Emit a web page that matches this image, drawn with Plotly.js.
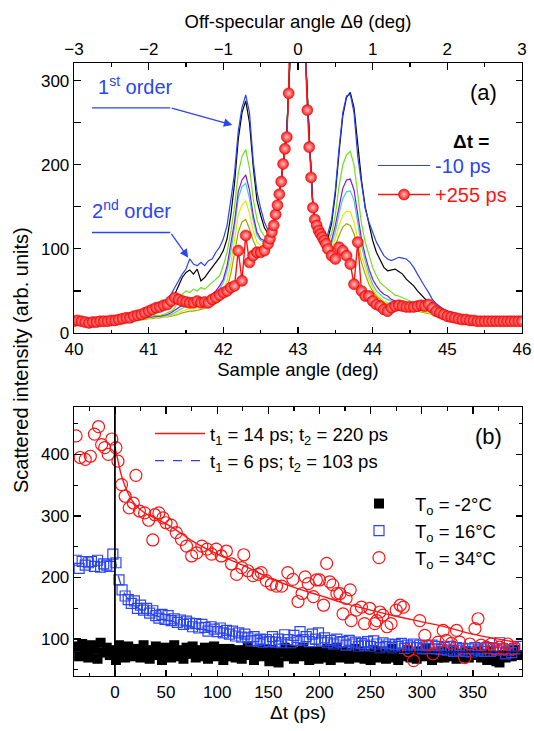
<!DOCTYPE html>
<html><head><meta charset="utf-8">
<script src="https://cdn.plot.ly/plotly-3.0.1.min.js"></script>
<style>body{margin:0;background:#fff}#chart{width:534px;height:731px}</style>
</head><body><div id="chart"></div>
<script>
// ---------- Panel (a): sample angle scans ----------
const angle = [40.00,40.05,40.10,40.15,40.20,40.25,40.30,40.35,40.40,40.45,
 40.50,40.55,40.60,40.65,40.70,40.75,40.80,40.85,40.90,40.95,
 41.00,41.05,41.10,41.15,41.20,41.25,41.30,41.35,41.40,41.45,
 41.50,41.55,41.60,41.65,41.70,41.75,41.80,41.85,41.90,41.95,
 42.00,42.05,42.10,42.15,42.20,42.25,42.30,42.35,42.40,42.45,
 42.50,42.55,42.60,42.65,42.70,42.75,42.80,42.85,42.90,42.95,
 43.00,
 43.05,43.10,43.15,43.20,43.25,43.30,43.35,43.40,43.45,43.50,
 43.55,43.60,43.65,43.70,43.75,43.80,43.85,43.90,43.95,44.00,
 44.05,44.10,44.15,44.20,44.25,44.30,44.35,44.40,44.45,44.50,
 44.55,44.60,44.65,44.70,44.75,44.80,44.85,44.90,44.95,45.00,
 45.05,45.10,45.15,45.20,45.25,45.30,45.35,45.40,45.45,45.50,
 45.55,45.60,45.65,45.70,45.75,45.80,45.85,45.90,45.95,46.00];

const blueM10 = [12,13,12,13,12,13,14,13,14,14,
 15,15,16,16,17,18,19,20,21,22,
 24,26,28,30,34,40,46,54,62,70,
 76,88,82,80,84,80,86,88,96,102,
 112,128,158,190,240,268,283,262,205,168,
 148,132,122,124,140,165,200,240,340,900,
 3000,
 900,330,235,150,128,118,112,118,135,170,
 220,262,282,284,262,210,178,148,132,120,
 108,100,92,88,86,88,90,89,88,84,
 78,70,62,55,48,40,35,31,28,26,
 25,23,22,21,20,19,19,18,18,17,
 17,16,16,16,15,15,15,14,15,15];

const blackCurve = [12,12,13,12,12,13,13,14,13,14,
 14,15,15,16,16,17,18,19,20,21,
 22,23,25,27,29,33,38,46,56,66,
 72,75,70,76,62,66,72,78,84,90,
 98,112,140,178,230,262,276,250,198,158,
 140,125,118,124,140,165,200,240,340,900,
 3000,
 900,330,235,150,126,116,110,112,130,165,
 215,258,280,286,268,222,182,150,128,110,
 96,86,78,74,75,76,73,70,64,60,
 56,50,45,40,36,32,29,26,24,22,
 21,20,19,18,18,17,17,16,16,16,
 15,15,15,14,14,14,14,14,14,14];

const greenCurve = [12,12,12,12,12,13,13,13,13,14,
 14,14,15,15,16,16,17,17,18,19,
 20,20,21,21,22,24,26,30,38,46,
 50,48,52,50,54,52,56,60,64,68,
 80,96,120,150,190,210,218,196,160,135,
 122,115,114,124,140,165,200,240,340,900,
 3000,
 900,330,235,150,126,114,106,108,118,140,
 175,200,212,216,200,165,130,108,92,78,
 68,60,56,52,48,45,44,42,40,38,
 36,34,32,30,28,26,24,22,21,20,
 19,18,17,17,16,16,15,15,15,14,
 14,14,14,14,14,13,13,13,13,13];

const purpleCurve = [12,12,12,12,12,12,13,13,13,13,
 14,14,14,15,15,16,16,17,17,18,
 19,19,20,20,21,22,24,27,30,34,
 36,38,36,40,38,40,42,46,50,56,
 64,80,104,132,168,182,188,170,140,120,
 112,110,112,122,140,165,200,240,340,900,
 3000,
 900,330,235,150,126,114,104,102,110,128,
 152,172,182,183,170,140,112,92,76,64,
 56,50,46,44,40,38,36,34,32,32,
 30,30,29,28,27,25,23,21,20,19,
 18,17,17,16,16,15,15,15,14,14,
 14,14,13,13,13,13,13,13,13,13];

const cyanCurve = [12,12,12,12,12,12,12,13,13,13,
 13,14,14,14,15,15,16,16,17,18,
 18,19,19,20,20,21,22,24,27,30,
 32,34,32,35,34,36,38,42,46,52,
 60,74,96,126,160,174,178,160,134,116,
 110,108,110,122,140,165,200,240,340,900,
 3000,
 900,330,235,150,126,112,102,100,106,120,
 142,160,168,169,158,130,104,86,70,58,
 50,46,42,40,38,36,34,33,32,31,
 30,29,28,27,26,24,22,21,20,19,
 18,17,16,16,15,15,15,14,14,14,
 14,13,13,13,13,13,13,13,12,12];

const yellowCurve = [11,11,12,12,12,12,12,12,13,13,
 13,13,14,14,14,15,15,16,16,17,
 17,18,18,19,19,20,21,22,24,26,
 28,29,28,30,30,32,34,36,40,44,
 50,62,82,110,140,152,157,142,122,108,
 104,104,108,122,140,165,200,240,340,900,
 3000,
 900,330,235,150,124,110,100,96,100,112,
 128,140,145,144,132,112,92,78,64,54,
 46,42,38,36,34,32,31,30,29,28,
 28,27,26,25,24,22,21,20,19,18,
 17,16,16,15,15,14,14,14,13,13,
 13,13,12,12,12,12,12,12,12,12];

const oliveCurve = [11,11,11,12,12,12,12,12,12,13,
 13,13,13,14,14,14,15,15,16,16,
 17,17,18,18,19,19,20,21,22,24,
 25,26,26,27,28,29,30,32,35,38,
 44,54,70,94,120,132,135,124,110,100,
 98,100,106,122,140,165,200,240,340,900,
 3000,
 900,330,235,150,124,108,98,94,96,104,
 116,126,130,128,118,100,84,70,58,50,
 44,40,36,34,32,31,30,29,28,27,
 26,26,25,24,23,22,20,19,18,17,
 16,16,15,15,14,14,14,13,13,13,
 13,12,12,12,12,12,12,12,12,12];

const angleRed = [40.00,40.05,40.10,40.15,40.20,40.25,40.30,40.35,40.40,40.45,
 40.50,40.55,40.60,40.65,40.70,40.75,40.80,40.85,40.90,40.95,
 41.00,41.05,41.10,41.15,41.20,41.25,41.30,41.35,41.40,41.45,
 41.50,41.55,41.60,41.65,41.70,41.75,41.80,41.85,41.90,41.95,
 42.00,42.05,42.10,42.15,42.20,42.25,42.30,42.35,42.40,42.45,
 42.50,42.55,
 42.600,42.625,42.650,42.675,42.700,42.725,42.750,42.775,
 42.800,42.825,42.850,42.875,42.900,42.925,42.950,42.975,
 43.000,
 43.025,43.050,43.075,43.100,43.125,43.150,43.175,43.200,
 43.225,43.250,43.275,43.300,43.325,43.350,43.375,43.400,
 43.45,43.50,43.55,43.60,43.65,43.70,43.75,43.80,43.85,43.90,
 43.95,44.00,44.05,44.10,44.15,44.20,44.25,44.30,44.35,44.40,
 44.45,44.50,44.55,44.60,44.65,44.70,44.75,44.80,44.85,44.90,
 44.95,45.00,45.05,45.10,45.15,45.20,45.25,45.30,45.35,45.40,
 45.45,45.50,45.55,45.60,45.65,45.70,45.75,45.80,45.85,45.90,
 45.95,46.00];

const redP255 = [14,15,14,13,12,13,13,14,14,14,
 15,15,16,17,18,18,20,21,22,24,
 26,28,30,31,33,34,38,42,40,38,
 37,36,36,38,36,37,36,40,42,45,
 48,50,54,56,98,62,116,84,92,96,
 96,98,
 106,112,120,128,141,152,165,180,
 201,219,233,285,340,600,1200,2500,
 3000,
 2500,1200,600,330,265,221,185,149,
 135,128,122,118,114,110,106,100,
 92,88,102,98,92,82,58,108,50,44,
 44,38,34,32,28,26,30,32,33,32,
 31,31,31,32,33,32,34,30,26,24,
 22,20,19,18,17,16,16,15,15,14,
 14,14,14,14,14,14,14,14,14,14,
 14,14];

const offAngleTicks = [-3,-2,-1,0,1,2,3];

// ---------- Panel (b): time delay scans ----------
const tSquares = [-38,-35,-32,-29,-26,-23,-20,-17,-14,-11,
 -8,-5,-2,1,4,7,10,13,16,19,
 22,25,28,31,34,37,40,43,46,49,
 52,55,58,61,64,67,70,73,76,79,
 82,85,88,91,94,97,100,103,106,109,
 112,115,118,121,124,127,130,133,136,139,
 142,145,148,151,154,157,160,163,166,169,
 172,175,178,181,184,187,190,193,196,199,
 202,205,208,211,214,217,220,223,226,229,
 232,235,238,241,244,247,250,253,256,259,
 262,265,268,271,274,277,280,283,286,289,
 292,295,298,301,304,307,310,313,316,319,
 322,325,328,331,334,337,340,343,346,349,
 352,355,358,361,364,367,370,373,376,379,
 382,385,388,391,394];

const blackM2 = [88,72,92,80,70,90,84,68,94,78,
 86,74,82,66,90,76,70,88,80,72,
 84,70,90,78,68,82,88,74,66,86,
 78,70,90,82,72,68,86,76,88,70,
 82,72,86,68,78,88,72,84,66,76,
 84,72,70,82,68,78,88,74,66,80,
 72,84,76,64,82,70,62,78,86,72,
 82,68,80,72,86,74,66,80,72,68,
 80,70,84,66,74,86,70,80,72,68,
 78,84,70,80,68,76,66,82,72,70,
 80,68,76,84,70,66,78,72,82,70,
 76,68,80,72,84,74,66,78,70,80,
 70,78,72,82,68,76,70,80,70,78,
 74,80,70,76,66,80,72,64,62,74,
 70,80,72,82,74];

const blue16 = [228,215,226,220,224,226,218,228,217,222,
 220,218,238,224,196,180,170,164,158,162,
 150,155,147,150,142,146,138,134,140,132,
 138,130,133,127,131,124,129,126,120,125,
 118,124,119,113,120,116,112,118,110,114,
 108,113,105,110,103,108,102,97,104,98,
 100,95,99,96,104,95,100,94,107,99,
 94,106,98,112,99,104,96,108,100,110,
 97,102,94,98,92,100,95,96,90,98,
 92,95,88,93,90,96,88,97,92,86,
 94,88,92,86,91,88,93,85,90,87,
 92,86,90,84,89,85,90,84,88,83,
 86,82,88,80,86,82,85,80,84,79,
 86,82,84,80,86,80,85,82,94,84,
 76,82,78,84,88];

const tCircles = [-38,-34,-29,-24,-20,-16,-13,-10,-6.5,-3,
 1,3,6.5,10,14,18,20.5,24,29,33,
 37,39,43,47,50,55,60,65,70,75,
 80,85,90,94.5,99,104,109,114,119,124,
 126,130,135,140,143,148,153,158,163,169,
 174,179,183,186,189,194,197,200,204,207,
 210,213,217,220,223,226,230,231,236,241,
 244,249,254,256,259,262,266,270,275,279,
 282,287,292,298,303,306,311,316,321,324,
 329,334,337,342,347,352,355,358,363,368,
 371,376,380,384,389];

const red34 = [430,395,392,397,433,445,416,411,400,425,
 411,389,351,332,313,321,366,308,305,293,
 261,302,305,297,289,285,273,262,251,235,
 240,251,246,238,246,235,243,222,205,216,
 237,211,203,205,208,195,189,186,186,208,
 197,161,174,201,190,169,196,196,155,223,
 193,188,174,174,141,166,180,130,147,152,
 125,150,125,130,144,139,120,125,147,155,
 152,81,65,130,106,89,76,95,114,98,
 93,114,95,70,92,117,133,90,87,92,
 84,87,84,92,84];

const tFitRed = [0,3,6,10,15,20,25,30,40,50,60,75,100,125,150,175,200,225,250,275,300,325,350,375,395];
const fitRed = [412,390,368,348,330,318,310,304,296,287,277,260,238,220,200,184,171,158,147,137,128,119,108,100,94];
const tFitBlue = [0,3,6,10,15,20,30,40,50,75,100,150,200,250,300,350,395];
const fitBlue = [232,205,188,172,160,153,144,138,132,120,111,99,91,86,83,81,80];

const zeroDelay = 0;
const baseLevel = 79;

// ---------- drawing ----------
const FONT = 'Liberation Sans, Arial, Helvetica, sans-serif';
const BLUE = '#2b45f0';
const RED = '#ff1414';

function lineTrace(y, color, extra) {
  return Object.assign({x: angle, y: y, type: 'scatter', mode: 'lines',
    line: {color: color, width: 1.2}, xaxis: 'x', yaxis: 'y',
    showlegend: false, hoverinfo: 'skip'}, extra || {});
}

const traces = [
  lineTrace(oliveCurve, '#a3a300'),
  lineTrace(yellowCurve, '#e6e600'),
  lineTrace(cyanCurve, '#3ccfd6'),
  lineTrace(purpleCurve, '#8a14d6'),
  lineTrace(greenCurve, '#6fe01a'),
  lineTrace(blackCurve, '#000000'),
  lineTrace(blueM10, BLUE, {showlegend: true, legend: 'legend',
    name: '<span style="color:' + BLUE + '">-10 ps</span>'}),
  {x: angleRed, y: redP255, type: 'scatter', mode: 'lines+markers',
    xaxis: 'x', yaxis: 'y', legend: 'legend',
    name: '<span style="color:' + RED + '">+255 ps</span>',
    line: {color: RED, width: 1.4},
    marker: {size: 11, color: RED, gradient: {type: 'radial', color: '#ffc4c4'},
      line: {color: '#d40000', width: 0.5}},
    hoverinfo: 'skip'},
  {x: offAngleTicks, y: offAngleTicks.map(() => null), xaxis: 'x3', yaxis: 'y',
    type: 'scatter', mode: 'markers', showlegend: false, hoverinfo: 'skip'},
  // panel (b)
  {x: tSquares, y: blackM2, type: 'scatter', mode: 'markers', xaxis: 'x2', yaxis: 'y2',
    legend: 'legend3', name: 'T<sub>o</sub> = -2°C',
    marker: {symbol: 'square', size: 10, color: '#000'}},
  {x: tSquares, y: blue16, type: 'scatter', mode: 'markers', xaxis: 'x2', yaxis: 'y2',
    legend: 'legend3', name: 'T<sub>o</sub> = 16°C',
    marker: {symbol: 'square-open', size: 10, color: BLUE, line: {width: 1.2}}},
  {x: tCircles, y: red34, type: 'scatter', mode: 'markers', xaxis: 'x2', yaxis: 'y2',
    legend: 'legend3', name: 'T<sub>o</sub> = 34°C',
    marker: {symbol: 'circle-open', size: 12, color: RED, line: {width: 1.2}}},
  {x: tFitBlue, y: fitBlue, type: 'scatter', mode: 'lines', xaxis: 'x2', yaxis: 'y2',
    legend: 'legend2', legendrank: 2, name: 't<sub>1</sub> = 6 ps; t<sub>2</sub> = 103 ps',
    line: {color: BLUE, width: 1.4, dash: 'dash', shape: 'spline'}},
  {x: tFitRed, y: fitRed, type: 'scatter', mode: 'lines', xaxis: 'x2', yaxis: 'y2',
    legend: 'legend2', legendrank: 1, name: 't<sub>1</sub> = 14 ps; t<sub>2</sub> = 220 ps',
    line: {color: RED, width: 1.4, shape: 'spline'}}
];

const minorBase = {ticks: 'inside', ticklen: 3.5, tickwidth: 1.2, tickcolor: '#000'};
function ax(extra, minorDtick) {
  return Object.assign({showline: true, linecolor: '#000', linewidth: 1.3,
    ticks: 'inside', ticklen: 6.5, tickwidth: 1.2, tickcolor: '#000',
    tickfont: {size: 17, color: '#000'}, showgrid: false, zeroline: false,
    minor: Object.assign({dtick: minorDtick}, minorBase)}, extra);
}

// paper coordinate helpers (plot area: x 74..522 px, y 63..676 px)
const px = v => (v - 74) / 448;
const py = v => (676 - v) / 613;

const layout = {
  width: 534, height: 731,
  margin: {l: 74, r: 12, t: 63, b: 55},
  paper_bgcolor: '#fff', plot_bgcolor: '#fff',
  font: {family: FONT, color: '#000', size: 16},
  xaxis: ax({domain: [0, 1], anchor: 'y', range: [40, 46], dtick: 1, tick0: 40, mirror: false,
    title: {text: 'Sample angle (deg)', font: {size: 18.5}, standoff: 3}}, 0.5),
  xaxis3: ax({overlaying: 'x', side: 'top', anchor: 'y', range: [-3, 3], dtick: 1, tick0: 0,
    title: {text: 'Off-specular angle Δθ (deg)', font: {size: 18.5}, standoff: 6}}, 0.5),
  yaxis: ax({domain: [py(333), 1], anchor: 'x', range: [0, 321], dtick: 100, tick0: 0,
    mirror: 'allticks'}, 50),
  xaxis2: ax({domain: [0, 1], anchor: 'y2', range: [-40, 398], dtick: 50, tick0: 0,
    mirror: 'allticks', title: {text: 'Δt (ps)', font: {size: 19}, standoff: 4}}, 25),
  yaxis2: ax({domain: [0, py(407)], anchor: 'x2', range: [40, 477], dtick: 100, tick0: 0,
    mirror: 'allticks'}, 50),
  legend: {x: px(373), xanchor: 'left', y: py(146), yanchor: 'top', bgcolor: 'rgba(0,0,0,0)',
    font: {size: 20}, itemwidth: 52, tracegroupgap: 0},
  legend2: {x: px(150), xanchor: 'left', y: py(415), yanchor: 'top', bgcolor: 'rgba(0,0,0,0)',
    font: {size: 18.5}, itemwidth: 50, tracegroupgap: 0},
  legend3: {x: px(343), xanchor: 'left', y: py(485), yanchor: 'top', bgcolor: 'rgba(0,0,0,0)',
    font: {size: 18.5}, itemwidth: 62, tracegroupgap: 0},
  shapes: [
    {type: 'line', xref: 'x', yref: 'y', x0: 40.24, x1: 41.29, y0: 267.7, y1: 267.7,
      line: {color: BLUE, width: 1.3}},
    {type: 'line', xref: 'x', yref: 'y', x0: 40.24, x1: 41.29, y0: 119.5, y1: 119.5,
      line: {color: BLUE, width: 1.3}},
    {type: 'line', xref: 'x2', yref: 'y2 domain', x0: zeroDelay, x1: zeroDelay, y0: 0, y1: 1,
      line: {color: '#000', width: 1.8}},
    {type: 'line', xref: 'x2 domain', yref: 'y2', x0: 0, x1: 1, y0: baseLevel, y1: baseLevel,
      line: {color: '#000', width: 1.2}}
  ],
  annotations: [
    {xref: 'x', yref: 'y', axref: 'x', ayref: 'y', x: 42.12, y: 247.4, ax: 41.29, ay: 267.7,
      text: '', showarrow: true, arrowhead: 2, arrowsize: 1.3, arrowwidth: 1.3, arrowcolor: BLUE, standoff: 0},
    {xref: 'x', yref: 'y', axref: 'x', ayref: 'y', x: 41.53, y: 89.6, ax: 41.29, ay: 119.5,
      text: '', showarrow: true, arrowhead: 2, arrowsize: 1.3, arrowwidth: 1.3, arrowcolor: BLUE, standoff: 0},
    {xref: 'paper', yref: 'paper', x: px(96), y: py(85), xanchor: 'left', yanchor: 'middle',
      text: '1<sup>st</sup> order', showarrow: false, font: {size: 20, color: BLUE}},
    {xref: 'paper', yref: 'paper', x: px(90), y: py(210), xanchor: 'left', yanchor: 'middle',
      text: '2<sup>nd</sup> order', showarrow: false, font: {size: 20, color: BLUE}},
    {xref: 'paper', yref: 'paper', x: px(471), y: py(141), xanchor: 'center', yanchor: 'middle',
      text: '<b>Δt =</b>', showarrow: false, font: {size: 19, color: '#000'}},
    {xref: 'paper', yref: 'paper', x: px(483), y: py(93), xanchor: 'center', yanchor: 'middle',
      text: '(a)', showarrow: false, font: {size: 22, color: '#000'}},
    {xref: 'paper', yref: 'paper', x: px(488), y: py(436), xanchor: 'center', yanchor: 'middle',
      text: '(b)', showarrow: false, font: {size: 22, color: '#000'}},
    {xref: 'paper', yref: 'paper', x: px(21), y: py(360), xanchor: 'center', yanchor: 'middle',
      text: 'Scattered intensity (arb. units)', textangle: -90, showarrow: false,
      font: {size: 20, color: '#000'}}
  ]
};

Plotly.newPlot('chart', traces, layout, {staticPlot: true, displayModeBar: false});
</script>
</body></html>
